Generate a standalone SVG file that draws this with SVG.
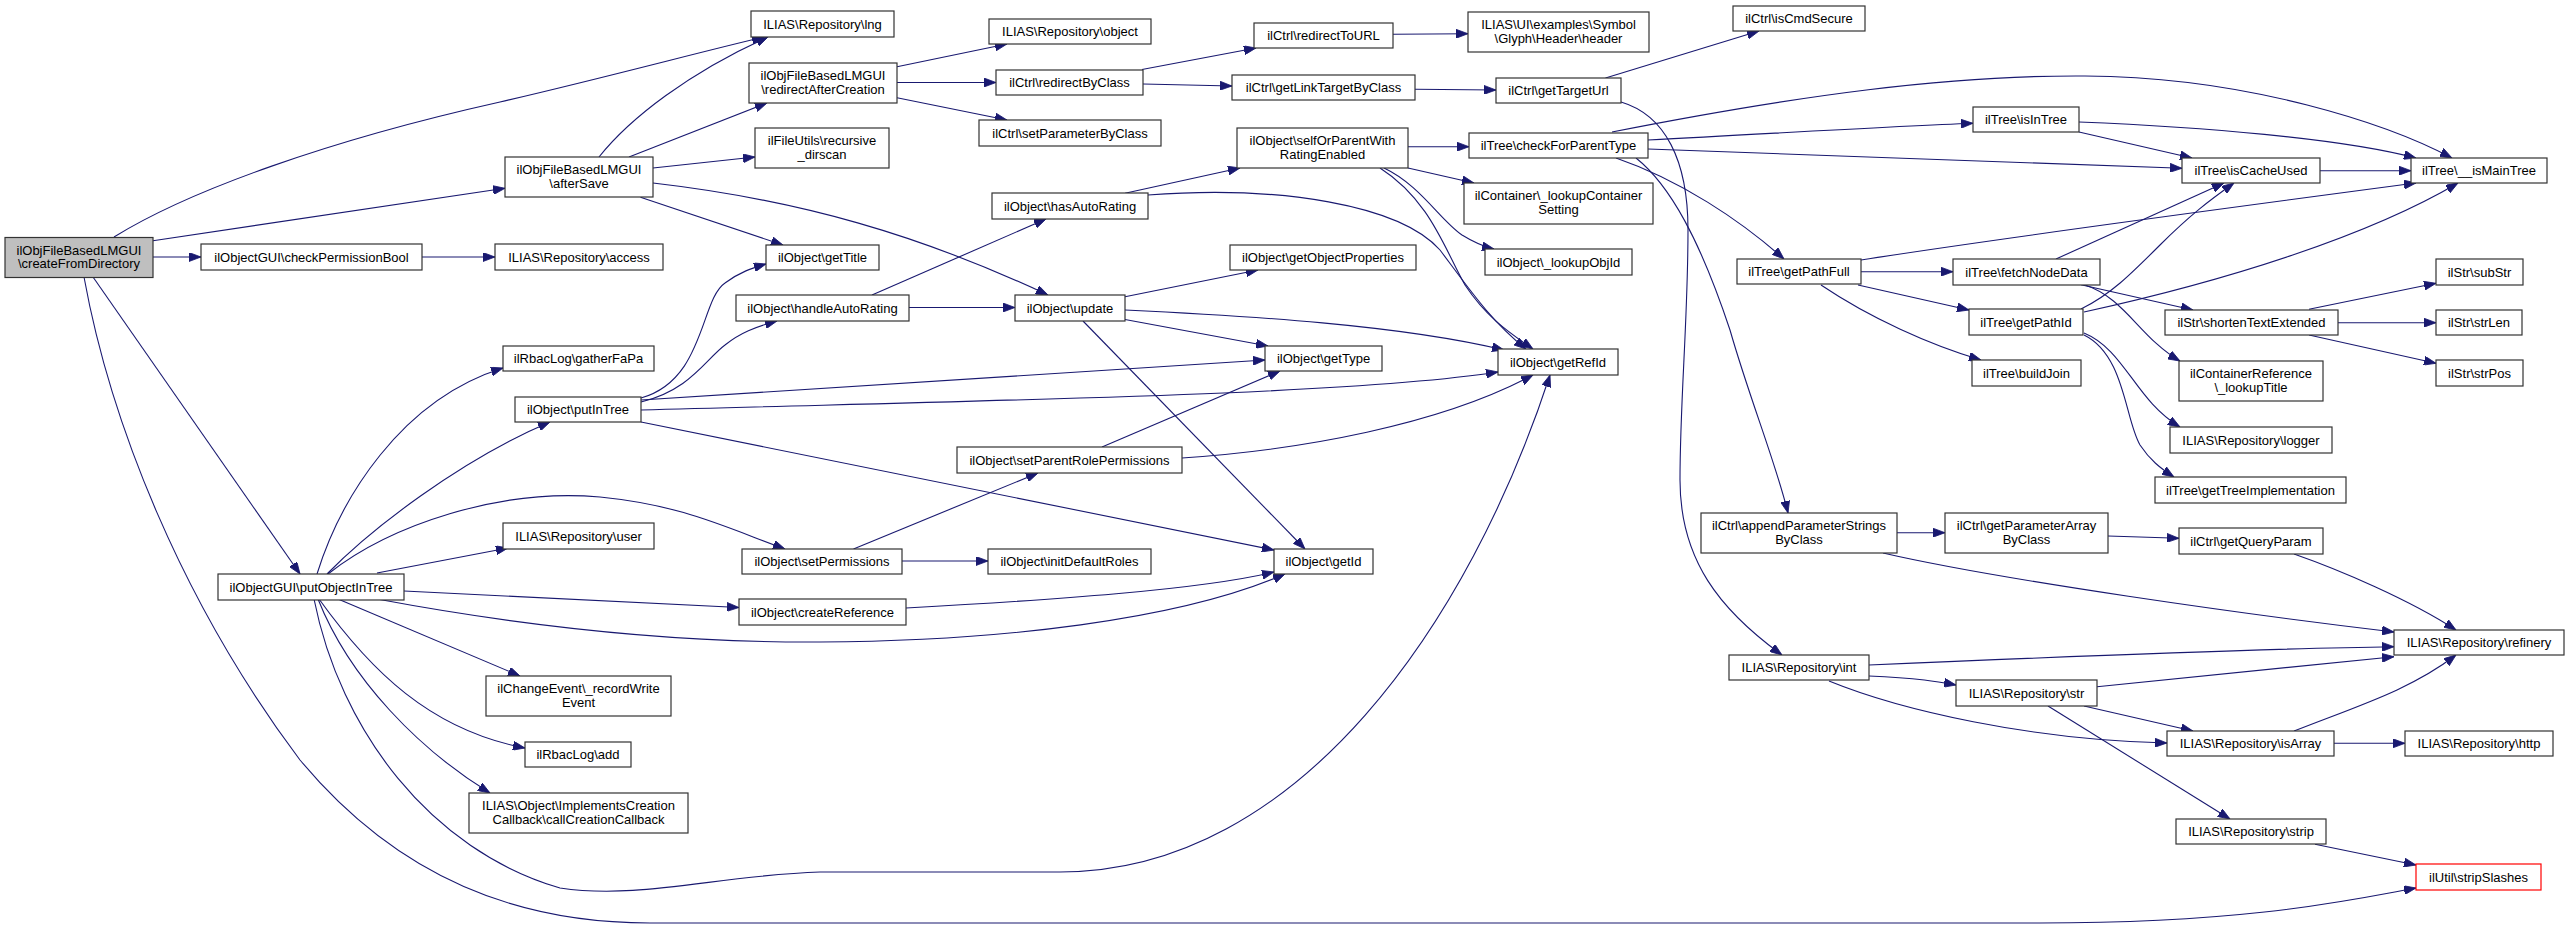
<svg xmlns="http://www.w3.org/2000/svg" width="2569" height="928" viewBox="0 0 2569 928">
<defs>
<style>
.n rect{fill:#ffffff;stroke:#333333;stroke-width:1.2}
.n text{font-family:"Liberation Sans",Arial,sans-serif;font-size:13px;text-anchor:middle;fill:#000000}
.e path{fill:none;stroke:#191970;stroke-width:1.1;marker-end:url(#a)}
</style>
<marker id="a" markerWidth="12" markerHeight="9" refX="12" refY="4.5" orient="auto" markerUnits="userSpaceOnUse"><path d="M0,0 L12,4.5 L0,9 z" fill="#191970" stroke="#191970" stroke-width="0.8"/></marker>
</defs>
<rect x="0" y="0" width="2569" height="928" fill="#ffffff"/>
<g id="edges" class="e">
<path d="M114,237 C190,190 330,140 500,102 C600,79 700,52 764,37"/>
<path d="M599,157 C630,118 690,72 768,37"/>
<path d="M153,240.7 L505,188.3"/>
<path d="M153,257 L201,257"/>
<path d="M422,257 L495,257"/>
<path d="M93,277 L300,574"/>
<path d="M84,277 C110,420 180,600 300,760 C400,880 520,923 650,923 L2040,923 C2250,923 2350,900 2416,888"/>
<path d="M317,574 C340,500 400,400 503,368"/>
<path d="M327,574 C370,530 460,460 550,422"/>
<path d="M328,574 C390,525 500,488 600,497 C680,505 720,525 785,549"/>
<path d="M377,573 L508,548"/>
<path d="M404,591 C500,596 600,601 739,607.5"/>
<path d="M377,599 C500,622 650,643 820,642 C1000,641 1180,620 1285,574"/>
<path d="M338,599 L520,676"/>
<path d="M319,599 C370,670 430,730 525,748"/>
<path d="M318,599 C350,680 420,750 490,793"/>
<path d="M314,599 C340,730 430,850 560,888 C640,900 720,875 820,872 L1060,872 C1300,872 1470,620 1550,375"/>
<path d="M641,398 C705,380 700,300 725,283 C740,272 752,268 766,264"/>
<path d="M641,402 C690,390 705,360 725,345 C740,333 755,327 777,321"/>
<path d="M641,400 L1265,360"/>
<path d="M641,410 C1000,400 1350,395 1498,372"/>
<path d="M641,422 L1274,550"/>
<path d="M629,157 L767,103"/>
<path d="M653,168 L755,157"/>
<path d="M653,183 C800,200 920,235 1048,295"/>
<path d="M640.5,197.3 L783,245"/>
<path d="M897,66.7 L1007,44"/>
<path d="M897,82.5 L996,82.5"/>
<path d="M897,97.7 L1007,120"/>
<path d="M1142,69.5 L1256,48"/>
<path d="M1143,84 L1232,86"/>
<path d="M1393,34.3 L1468,33.7"/>
<path d="M1415,89.3 L1496,90"/>
<path d="M1605.5,78 L1759,31"/>
<path d="M1621,102 C1665,115 1688,160 1688,230 C1688,320 1680,400 1680,480 C1680,560 1720,610 1782,655"/>
<path d="M1636,158 C1670,185 1700,240 1730,330 C1750,400 1775,460 1788,513"/>
<path d="M1408,146.7 L1469,146.7"/>
<path d="M1408,168 L1474,183"/>
<path d="M1384,168 C1420,185 1440,220 1462,235 C1475,243 1485,247 1494,249"/>
<path d="M1380,168 C1430,200 1445,250 1465,285 C1485,315 1505,330 1533,349"/>
<path d="M1148,195 C1280,185 1400,205 1440,250 C1470,290 1490,320 1526,349"/>
<path d="M1125,193.3 L1240,168"/>
<path d="M872,295 L1046,219"/>
<path d="M909,307.5 L1015,307.5"/>
<path d="M1125,296.7 L1258,270"/>
<path d="M1125,310 C1250,316 1400,325 1504,350"/>
<path d="M1125,319.5 L1268,346"/>
<path d="M1083,321 L1305,549"/>
<path d="M853.5,549 L1038,473"/>
<path d="M902,561 L988,561"/>
<path d="M1102,447 L1280,371"/>
<path d="M1182,458 C1300,450 1440,425 1533,375"/>
<path d="M906,608 C1050,600 1200,590 1274,572"/>
<path d="M1612,132 C1800,95 1950,75 2085,76 C2250,77 2390,125 2452,158"/>
<path d="M1648,140 C1800,132 1900,126 1973,123.3"/>
<path d="M1648,149 C1900,157 2100,165 2182,168.3"/>
<path d="M1616,158 C1680,180 1740,220 1784,259"/>
<path d="M1861,260 C2000,238 2250,205 2416,183"/>
<path d="M1861,271.7 L1953,271.7"/>
<path d="M1858,285 L1969,310"/>
<path d="M1821,285 C1870,318 1930,345 1981,360"/>
<path d="M2079,122 C2200,127 2340,138 2416,158"/>
<path d="M2079,132 L2192,158"/>
<path d="M2320,170.7 L2411,170.7"/>
<path d="M2056,259 L2224,183"/>
<path d="M2081,284.7 L2193,310"/>
<path d="M2085,285 C2125,298 2140,338 2180,361"/>
<path d="M2081,309 C2110,295 2130,275 2160,245 C2190,215 2210,200 2234,183"/>
<path d="M2084,312 C2230,280 2370,235 2458,183"/>
<path d="M2084,333 C2125,350 2135,400 2180,427"/>
<path d="M2084,335 C2125,355 2125,420 2140,445 C2150,460 2160,468 2174,477"/>
<path d="M2309,309.3 L2436,283.3"/>
<path d="M2338,322.7 L2436,322.7"/>
<path d="M2309,335 L2436,363.3"/>
<path d="M1897,532.7 L1945,532.7"/>
<path d="M1883,553 C2000,580 2250,615 2394,632"/>
<path d="M2108,536 L2179,538.3"/>
<path d="M2294,554 C2340,570 2410,600 2456,630"/>
<path d="M1869,665 C2100,655 2300,648 2394,646.7"/>
<path d="M1869,676 C1920,678 1940,682 1956,685"/>
<path d="M1829,681 C1900,710 2030,740 2167,743"/>
<path d="M2097,686.7 L2394,656.7"/>
<path d="M2084,706 L2193,731"/>
<path d="M2048,706 L2230,819"/>
<path d="M2294,731 C2360,705 2410,690 2456,655"/>
<path d="M2334,743.3 L2405,743.3"/>
<path d="M2315,844.3 L2416,865"/>
</g>
<g id="n_cfd" class="n"><rect x="5" y="237.5" width="148" height="40" style="fill:#bfbfbf"/><text x="79" y="254.5">ilObjFileBasedLMGUI</text><text x="79" y="268">\createFromDirectory</text></g>
<g id="n_cpb" class="n"><rect x="201" y="244" width="221" height="26"/><text x="311.5" y="261.5">ilObjectGUI\checkPermissionBool</text></g>
<g id="n_access" class="n"><rect x="495" y="244" width="168" height="26"/><text x="579" y="261.5">ILIAS\Repository\access</text></g>
<g id="n_after" class="n"><rect x="505" y="157" width="148" height="40"/><text x="579" y="174">ilObjFileBasedLMGUI</text><text x="579" y="187.5">\afterSave</text></g>
<g id="n_gather" class="n"><rect x="503" y="346" width="151" height="25"/><text x="578.5" y="363">ilRbacLog\gatherFaPa</text></g>
<g id="n_pit" class="n"><rect x="515" y="397" width="126" height="25"/><text x="578" y="414">ilObject\putInTree</text></g>
<g id="n_poit" class="n"><rect x="218" y="574" width="186" height="26"/><text x="311" y="591.5">ilObjectGUI\putObjectInTree</text></g>
<g id="n_user" class="n"><rect x="503" y="523" width="151" height="26"/><text x="578.5" y="540.5">ILIAS\Repository\user</text></g>
<g id="n_change" class="n"><rect x="486" y="676" width="185" height="40"/><text x="578.5" y="693">ilChangeEvent\_recordWrite</text><text x="578.5" y="706.5">Event</text></g>
<g id="n_add" class="n"><rect x="525" y="742" width="106" height="25"/><text x="578" y="759">ilRbacLog\add</text></g>
<g id="n_ccc" class="n"><rect x="469" y="793" width="219" height="40"/><text x="578.5" y="810">ILIAS\Object\ImplementsCreation</text><text x="578.5" y="823.5">Callback\callCreationCallback</text></g>
<g id="n_lng" class="n"><rect x="751" y="11" width="143" height="26"/><text x="822.5" y="28.5">ILIAS\Repository\lng</text></g>
<g id="n_rac" class="n"><rect x="749" y="63" width="148" height="40"/><text x="823" y="80">ilObjFileBasedLMGUI</text><text x="823" y="93.5">\redirectAfterCreation</text></g>
<g id="n_rds" class="n"><rect x="755" y="128" width="134" height="40"/><text x="822" y="145">ilFileUtils\recursive</text><text x="822" y="158.5">_dirscan</text></g>
<g id="n_title" class="n"><rect x="766" y="245" width="113" height="25"/><text x="822.5" y="262">ilObject\getTitle</text></g>
<g id="n_har" class="n"><rect x="736" y="295" width="173" height="26"/><text x="822.5" y="312.5">ilObject\handleAutoRating</text></g>
<g id="n_sprp" class="n"><rect x="957" y="447" width="225" height="26"/><text x="1069.5" y="464.5">ilObject\setParentRolePermissions</text></g>
<g id="n_obj" class="n"><rect x="989" y="19" width="162" height="25"/><text x="1070" y="36">ILIAS\Repository\object</text></g>
<g id="n_rbc" class="n"><rect x="996" y="70" width="147" height="25"/><text x="1069.5" y="87">ilCtrl\redirectByClass</text></g>
<g id="n_spbc" class="n"><rect x="979" y="120" width="182" height="26"/><text x="1070" y="137.5">ilCtrl\setParameterByClass</text></g>
<g id="n_hasar" class="n"><rect x="992" y="193" width="156" height="26"/><text x="1070" y="210.5">ilObject\hasAutoRating</text></g>
<g id="n_update" class="n"><rect x="1015" y="295" width="110" height="26"/><text x="1070" y="312.5">ilObject\update</text></g>
<g id="n_rtu" class="n"><rect x="1254" y="23" width="139" height="25"/><text x="1323.5" y="40">ilCtrl\redirectToURL</text></g>
<g id="n_gltbc" class="n"><rect x="1232" y="75" width="183" height="25"/><text x="1323.5" y="92">ilCtrl\getLinkTargetByClass</text></g>
<g id="n_sop" class="n"><rect x="1237" y="128" width="171" height="40"/><text x="1322.5" y="145">ilObject\selfOrParentWith</text><text x="1322.5" y="158.5">RatingEnabled</text></g>
<g id="n_gop" class="n"><rect x="1230" y="245" width="186" height="25"/><text x="1323" y="262">ilObject\getObjectProperties</text></g>
<g id="n_type" class="n"><rect x="1265" y="346" width="117" height="25"/><text x="1323.5" y="363">ilObject\getType</text></g>
<g id="n_setperm" class="n"><rect x="742" y="549" width="160" height="25"/><text x="822" y="566">ilObject\setPermissions</text></g>
<g id="n_idr" class="n"><rect x="988" y="549" width="163" height="25"/><text x="1069.5" y="566">ilObject\initDefaultRoles</text></g>
<g id="n_cref" class="n"><rect x="739" y="599" width="167" height="26"/><text x="822.5" y="616.5">ilObject\createReference</text></g>
<g id="n_getid" class="n"><rect x="1274" y="549" width="99" height="25"/><text x="1323.5" y="566">ilObject\getId</text></g>
<g id="n_header" class="n"><rect x="1468" y="12" width="181" height="40"/><text x="1558.5" y="29">ILIAS\UI\examples\Symbol</text><text x="1558.5" y="42.5">\Glyph\Header\header</text></g>
<g id="n_ics" class="n"><rect x="1733" y="6" width="132" height="25"/><text x="1799" y="23">ilCtrl\isCmdSecure</text></g>
<g id="n_gtu" class="n"><rect x="1496" y="78" width="125" height="25"/><text x="1558.5" y="95">ilCtrl\getTargetUrl</text></g>
<g id="n_cfpt" class="n"><rect x="1469" y="133" width="179" height="25"/><text x="1558.5" y="150">ilTree\checkForParentType</text></g>
<g id="n_lcs" class="n"><rect x="1464" y="183" width="189" height="41"/><text x="1558.5" y="200">ilContainer\_lookupContainer</text><text x="1558.5" y="214">Setting</text></g>
<g id="n_loi" class="n"><rect x="1485" y="249" width="147" height="26"/><text x="1558.5" y="266.5">ilObject\_lookupObjId</text></g>
<g id="n_refid" class="n"><rect x="1498" y="349" width="120" height="26"/><text x="1558" y="366.5">ilObject\getRefId</text></g>
<g id="n_gpf" class="n"><rect x="1737" y="259" width="124" height="25"/><text x="1799" y="276">ilTree\getPathFull</text></g>
<g id="n_apsbc" class="n"><rect x="1701" y="513" width="196" height="40"/><text x="1799" y="530">ilCtrl\appendParameterStrings</text><text x="1799" y="543.5">ByClass</text></g>
<g id="n_int" class="n"><rect x="1729" y="655" width="140" height="25"/><text x="1799" y="672">ILIAS\Repository\int</text></g>
<g id="n_iit" class="n"><rect x="1973" y="107" width="106" height="25"/><text x="2026" y="124">ilTree\isInTree</text></g>
<g id="n_icu" class="n"><rect x="2182" y="158" width="138" height="25"/><text x="2251" y="175">ilTree\isCacheUsed</text></g>
<g id="n_imt" class="n"><rect x="2411" y="158" width="136" height="25"/><text x="2479" y="175">ilTree\__isMainTree</text></g>
<g id="n_fnd" class="n"><rect x="1953" y="259" width="147" height="26"/><text x="2026.5" y="276.5">ilTree\fetchNodeData</text></g>
<g id="n_gpi" class="n"><rect x="1969" y="309" width="114" height="26"/><text x="2026" y="326.5">ilTree\getPathId</text></g>
<g id="n_bj" class="n"><rect x="1972" y="360" width="109" height="26"/><text x="2026.5" y="377.5">ilTree\buildJoin</text></g>
<g id="n_substr" class="n"><rect x="2436" y="259" width="87" height="26"/><text x="2479.5" y="276.5">ilStr\subStr</text></g>
<g id="n_ste" class="n"><rect x="2165" y="310" width="173" height="25"/><text x="2251.5" y="327">ilStr\shortenTextExtended</text></g>
<g id="n_strlen" class="n"><rect x="2436" y="310" width="86" height="25"/><text x="2479" y="327">ilStr\strLen</text></g>
<g id="n_strpos" class="n"><rect x="2436" y="360" width="87" height="26"/><text x="2479.5" y="377.5">ilStr\strPos</text></g>
<g id="n_lt" class="n"><rect x="2179" y="361" width="144" height="40"/><text x="2251" y="378">ilContainerReference</text><text x="2251" y="391.5">\_lookupTitle</text></g>
<g id="n_logger" class="n"><rect x="2170" y="427" width="162" height="26"/><text x="2251" y="444.5">ILIAS\Repository\logger</text></g>
<g id="n_gti" class="n"><rect x="2155" y="477" width="191" height="26"/><text x="2250.5" y="494.5">ilTree\getTreeImplementation</text></g>
<g id="n_gpabc" class="n"><rect x="1945" y="513" width="163" height="40"/><text x="2026.5" y="530">ilCtrl\getParameterArray</text><text x="2026.5" y="543.5">ByClass</text></g>
<g id="n_gqp" class="n"><rect x="2179" y="528" width="144" height="26"/><text x="2251" y="545.5">ilCtrl\getQueryParam</text></g>
<g id="n_ref" class="n"><rect x="2394" y="630" width="170" height="25"/><text x="2479" y="647">ILIAS\Repository\refinery</text></g>
<g id="n_str" class="n"><rect x="1956" y="680" width="141" height="26"/><text x="2026.5" y="697.5">ILIAS\Repository\str</text></g>
<g id="n_isarr" class="n"><rect x="2167" y="731" width="167" height="25"/><text x="2250.5" y="748">ILIAS\Repository\isArray</text></g>
<g id="n_http" class="n"><rect x="2405" y="731" width="148" height="25"/><text x="2479" y="748">ILIAS\Repository\http</text></g>
<g id="n_strip" class="n"><rect x="2176" y="819" width="150" height="25"/><text x="2251" y="836">ILIAS\Repository\strip</text></g>
<g id="n_ss" class="n"><rect x="2416" y="864" width="125" height="26" style="stroke:#ff0000"/><text x="2478.5" y="881.5">ilUtil\stripSlashes</text></g>
</svg>
